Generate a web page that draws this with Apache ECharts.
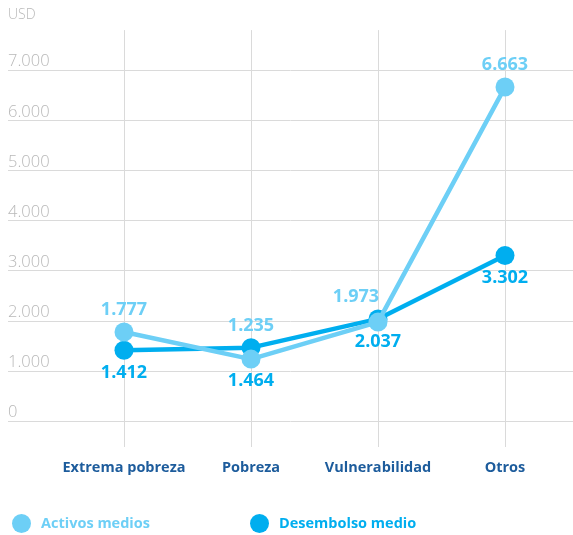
<!DOCTYPE html>
<html>
<head>
<meta charset="utf-8">
<script src="https://cdn.jsdelivr.net/npm/echarts@6/dist/echarts.min.js"></script>
<style>
  html, body { margin: 0; padding: 0; background: #ffffff; }
  #chart { width: 573px; height: 535px; }
</style>
</head>
<body>
<div id="chart"></div>
<script>
// Segment categories and average values (USD)
const categories = ['Extrema pobreza', 'Pobreza', 'Vulnerabilidad', 'Otros'];
const activosMedios = [1777, 1235, 1973, 6663];
const desembolsoMedio = [1412, 1464, 2037, 3302];
const yTicks = [0, 1000, 2000, 3000, 4000, 5000, 6000, 7000];

const LIGHT = '#6dcff6';
const DARK = '#00aeef';
const NAVY = '#1d5c9c';
const GRID = '#dadada';
const MUTED = '#b8b8b8';
const FONT = '"Open Sans", "Noto Sans", sans-serif';

// Thousands separated with a dot
function fmt(v) {
  return String(v).replace(/\B(?=(\d{3})+(?!\d))/g, '.');
}

// Shared vertical scale: both grids end at y=421 and use the same px per unit
const zeroY = 421;
const tickMax = yTicks[yTicks.length - 1];
const pxPerUnit = 350.8 / tickMax;
const plotMax = 7800;

// Per-point label tweaks where markers sit close together
const activosOffsets = [[0, 0], [0, -11], [-22, -3], [0, 0]];
const desembolsoOffsets = [[0, 0], [0, 11], [0, 0], [0, 0]];

const chart = echarts.init(document.getElementById('chart'), null, { renderer: 'canvas' });

chart.setOption({
  animation: false,
  backgroundColor: '#ffffff',
  title: {
    text: 'USD',
    left: 8,
    top: 8,
    padding: 0,
    textStyle: { color: MUTED, fontSize: 14, fontWeight: 300, fontFamily: FONT }
  },
  legend: [
    {
      data: [{ name: 'Activos medios', textStyle: { color: LIGHT } }],
      left: 12,
      top: 514,
      padding: 0,
      icon: 'circle',
      itemWidth: 19,
      itemHeight: 19,
      textStyle: { fontSize: 14.5, fontWeight: 'bold', fontFamily: FONT, padding: [0, 0, 0, 5] }
    },
    {
      data: [{ name: 'Desembolso medio', textStyle: { color: DARK } }],
      left: 250,
      top: 514,
      padding: 0,
      icon: 'circle',
      itemWidth: 19,
      itemHeight: 19,
      textStyle: { fontSize: 14.5, fontWeight: 'bold', fontFamily: FONT, padding: [0, 0, 0, 5] }
    }
  ],
  grid: [
    // horizontal rules and value labels
    { left: 8, right: 0, top: zeroY - tickMax * pxPerUnit, height: tickMax * pxPerUnit },
    // plotting area with category columns
    { left: 124, right: 68, top: zeroY - plotMax * pxPerUnit, height: plotMax * pxPerUnit }
  ],
  xAxis: [
    { gridIndex: 0, type: 'category', data: [], show: false },
    {
      gridIndex: 1,
      type: 'category',
      data: categories,
      boundaryGap: false,
      axisLine: { show: false },
      axisTick: { show: true, interval: 0, length: 26, lineStyle: { color: GRID, width: 1 } },
      splitLine: { show: true, interval: 0, lineStyle: { color: GRID, width: 1 } },
      axisLabel: {
        interval: 0,
        margin: 39,
        color: NAVY,
        fontSize: 14.5,
        fontWeight: 'bold',
        fontFamily: FONT
      }
    }
  ],
  yAxis: [
    {
      gridIndex: 0,
      type: 'value',
      min: yTicks[0],
      max: tickMax,
      interval: yTicks[1] - yTicks[0],
      axisLine: { show: false },
      axisTick: { show: false },
      splitLine: { show: true, lineStyle: { color: GRID, width: 1 } },
      axisLabel: {
        inside: true,
        margin: 0,
        color: MUTED,
        fontSize: 16.5,
        fontWeight: 300,
        fontFamily: FONT,
        verticalAlign: 'bottom',
        padding: [0, 0, 0, 0],
        formatter: fmt
      }
    },
    {
      gridIndex: 1,
      type: 'value',
      min: 0,
      max: plotMax,
      show: false,
      splitLine: { show: false }
    }
  ],
  series: [
    {
      name: 'Desembolso medio',
      type: 'line',
      xAxisIndex: 1,
      yAxisIndex: 1,
      z: 2,
      data: desembolsoMedio.map((v, i) => ({ value: v, label: { offset: desembolsoOffsets[i] } })),
      color: DARK,
      lineStyle: { color: DARK, width: 4.5 },
      itemStyle: { color: DARK },
      symbol: 'circle',
      symbolSize: 19,
      label: {
        show: true,
        position: 'bottom',
        distance: 4,
        color: DARK,
        fontSize: 18,
        fontWeight: 'bold',
        fontFamily: FONT,
        formatter: p => fmt(p.value)
      }
    },
    {
      name: 'Activos medios',
      type: 'line',
      xAxisIndex: 1,
      yAxisIndex: 1,
      z: 3,
      data: activosMedios.map((v, i) => ({ value: v, label: { offset: activosOffsets[i] } })),
      color: LIGHT,
      lineStyle: { color: LIGHT, width: 4.5 },
      itemStyle: { color: LIGHT },
      symbol: 'circle',
      symbolSize: 19,
      label: {
        show: true,
        position: 'top',
        distance: 4,
        color: LIGHT,
        fontSize: 18,
        fontWeight: 'bold',
        fontFamily: FONT,
        formatter: p => fmt(p.value)
      }
    }
  ]
});
</script>
</body>
</html>
